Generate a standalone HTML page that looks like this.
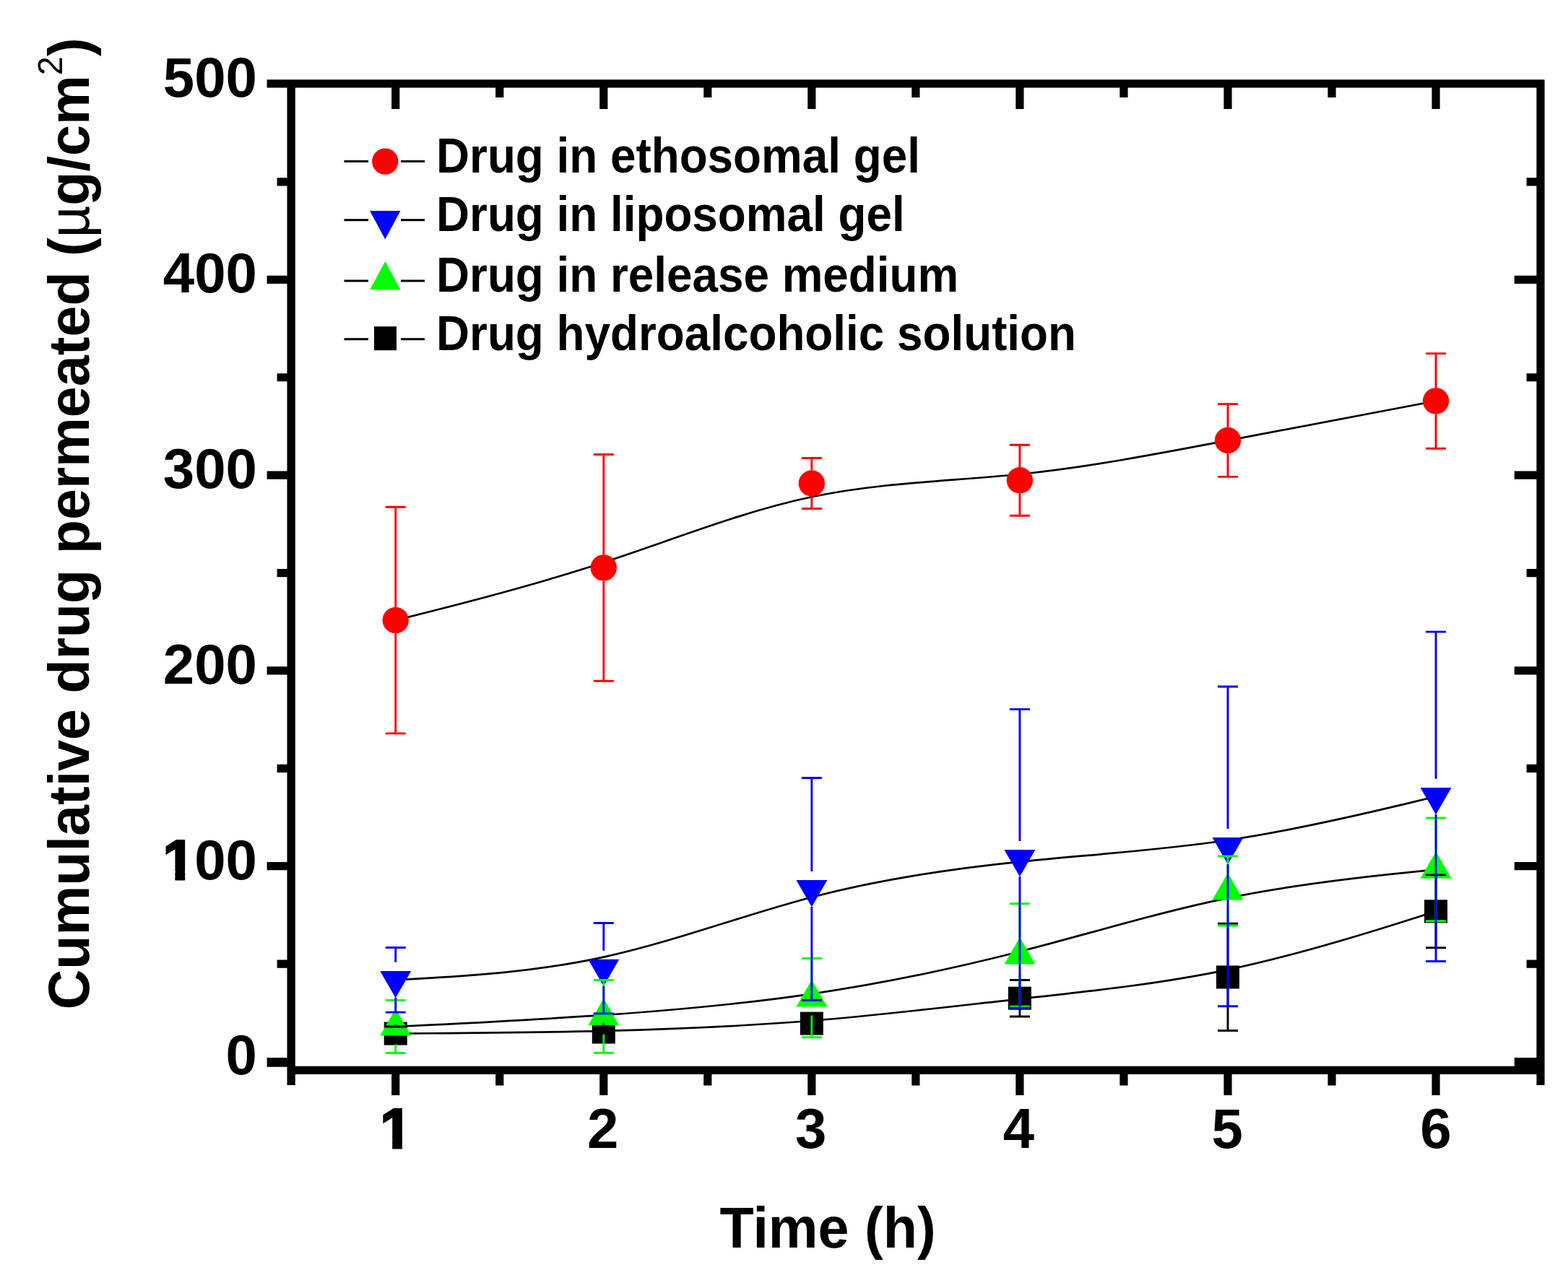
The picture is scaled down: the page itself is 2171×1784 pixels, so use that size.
<!DOCTYPE html>
<html><head><meta charset="utf-8"><title>Cumulative drug permeated</title><style>html,body{margin:0;padding:0;background:#fff;overflow:hidden}svg{display:block}</style></head>
<body>
<svg width="2171" height="1784" viewBox="0 0 2171 1784">
<rect width="2171" height="1784" fill="#fff"/>
<g fill="none" stroke="#000" stroke-width="2.7" stroke-linejoin="round">
<path d="M547.72,1431.6 C547.72,1431.6 547.72,1431.6 595.73,1431.25 C643.74,1430.9 739.77,1430.2 835.79,1427.87 C931.81,1425.53 1027.84,1421.57 1123.86,1413.77 C1219.88,1405.97 1315.91,1394.33 1411.93,1383.63 C1507.95,1372.93 1603.98,1363.17 1700,1343.1 C1796.02,1323.03 1892.05,1292.67 1940.06,1277.48 C1988.07,1262.3 1988.07,1262.3 1988.07,1262.3"/>
<path d="M547.72,1422 C547.72,1422 547.72,1422 595.73,1419.65 C643.74,1417.3 739.77,1412.6 835.79,1405.95 C931.81,1399.3 1027.84,1390.7 1123.86,1376.55 C1219.88,1362.4 1315.91,1342.7 1411.93,1318.02 C1507.95,1293.33 1603.98,1263.67 1700,1243.9 C1796.02,1224.13 1892.05,1214.27 1940.06,1209.33 C1988.07,1204.4 1988.07,1204.4 1988.07,1204.4"/>
<path d="M547.72,1357.3 C547.72,1357.3 547.72,1357.3 595.73,1354.62 C643.74,1351.93 739.77,1346.57 835.79,1325.6 C931.81,1304.63 1027.84,1268.07 1123.86,1242.77 C1219.88,1217.47 1315.91,1203.43 1411.93,1193.58 C1507.95,1183.73 1603.98,1178.07 1700,1163.72 C1796.02,1149.37 1892.05,1126.33 1940.06,1114.82 C1988.07,1103.3 1988.07,1103.3 1988.07,1103.3"/>
<path d="M547.72,859.1 C547.72,859.1 547.72,859.1 595.73,846.98 C643.74,834.87 739.77,810.63 835.79,779.03 C931.81,747.43 1027.84,708.47 1123.86,688.28 C1219.88,668.1 1315.91,666.7 1411.93,656.78 C1507.95,646.87 1603.98,628.43 1700,610.12 C1796.02,591.8 1892.05,573.6 1940.06,564.5 C1988.07,555.4 1988.07,555.4 1988.07,555.4"/>
</g>
<rect x="531.72" y="1415.6" width="32.0" height="32.0" fill="#000000"/>
<rect x="819.79" y="1413.5" width="32.0" height="32.0" fill="#000000"/>
<rect x="1107.86" y="1401.6" width="32.0" height="32.0" fill="#000000"/>
<rect x="1395.93" y="1366.7" width="32.0" height="32.0" fill="#000000"/>
<rect x="1684" y="1337.4" width="32.0" height="32.0" fill="#000000"/>
<rect x="1972.07" y="1246.3" width="32.0" height="32.0" fill="#000000"/>
<polygon points="547.72,1397.17 569.22,1434.41 526.22,1434.41" fill="#00ff00"/>
<polygon points="835.79,1383.07 857.29,1420.31 814.29,1420.31" fill="#00ff00"/>
<polygon points="1123.86,1357.27 1145.36,1394.51 1102.36,1394.51" fill="#00ff00"/>
<polygon points="1411.93,1298.17 1433.43,1335.41 1390.43,1335.41" fill="#00ff00"/>
<polygon points="1700,1209.17 1721.5,1246.41 1678.5,1246.41" fill="#00ff00"/>
<polygon points="1988.07,1179.57 2009.57,1216.81 1966.57,1216.81" fill="#00ff00"/>
<polygon points="547.72,1382.13 569.22,1344.89 526.22,1344.89" fill="#0000ff"/>
<polygon points="835.79,1366.03 857.29,1328.79 814.29,1328.79" fill="#0000ff"/>
<polygon points="1123.86,1256.33 1145.36,1219.09 1102.36,1219.09" fill="#0000ff"/>
<polygon points="1411.93,1214.23 1433.43,1176.99 1390.43,1176.99" fill="#0000ff"/>
<polygon points="1700,1197.23 1721.5,1159.99 1678.5,1159.99" fill="#0000ff"/>
<polygon points="1988.07,1128.13 2009.57,1090.89 1966.57,1090.89" fill="#0000ff"/>
<circle cx="547.72" cy="859.1" r="18.2" fill="#ff0000"/>
<circle cx="835.79" cy="786.4" r="18.2" fill="#ff0000"/>
<circle cx="1123.86" cy="669.5" r="18.2" fill="#ff0000"/>
<circle cx="1411.93" cy="665.3" r="18.2" fill="#ff0000"/>
<circle cx="1700" cy="610" r="18.2" fill="#ff0000"/>
<circle cx="1988.07" cy="555.4" r="18.2" fill="#ff0000"/>
<g stroke="#000000" stroke-width="2.9" fill="none">
<path d="M547.72,1419.6 L547.72,1422 M533.72,1422 L561.72,1422"/>
<path d="M547.72,1443.6 L547.72,1441.2 M533.72,1441.2 L561.72,1441.2"/>
<path d="M835.79,1417.5 L835.79,1421.5 M821.79,1421.5 L849.79,1421.5"/>
<path d="M835.79,1441.5 L835.79,1437.5 M821.79,1437.5 L849.79,1437.5"/>
<path d="M1123.86,1405.6 L1123.86,1409.6 M1109.86,1409.6 L1137.86,1409.6"/>
<path d="M1123.86,1429.6 L1123.86,1425.6 M1109.86,1425.6 L1137.86,1425.6"/>
<path d="M1411.93,1370.7 L1411.93,1357.45 M1397.93,1357.45 L1425.93,1357.45"/>
<path d="M1411.93,1394.7 L1411.93,1407.95 M1397.93,1407.95 L1425.93,1407.95"/>
<path d="M1700,1341.4 L1700,1279.3 M1686,1279.3 L1714,1279.3"/>
<path d="M1700,1365.4 L1700,1427.5 M1686,1427.5 L1714,1427.5"/>
<path d="M1988.07,1250.3 L1988.07,1211.85 M1974.07,1211.85 L2002.07,1211.85"/>
<path d="M1988.07,1274.3 L1988.07,1312.75 M1974.07,1312.75 L2002.07,1312.75"/>
</g>
<g stroke="#00ff00" stroke-width="2.9" fill="none">
<path d="M547.72,1397.5 L547.72,1385.45 M533.72,1385.45 L561.72,1385.45"/>
<path d="M547.72,1446.5 L547.72,1458.55 M533.72,1458.55 L561.72,1458.55"/>
<path d="M835.79,1383.4 L835.79,1357.55 M821.79,1357.55 L849.79,1357.55"/>
<path d="M835.79,1432.4 L835.79,1458.25 M821.79,1458.25 L849.79,1458.25"/>
<path d="M1123.86,1357.6 L1123.86,1327.5 M1109.86,1327.5 L1137.86,1327.5"/>
<path d="M1123.86,1406.6 L1123.86,1436.7 M1109.86,1436.7 L1137.86,1436.7"/>
<path d="M1411.93,1298.5 L1411.93,1251.8 M1397.93,1251.8 L1425.93,1251.8"/>
<path d="M1411.93,1347.5 L1411.93,1394.2 M1397.93,1394.2 L1425.93,1394.2"/>
<path d="M1700,1209.5 L1700,1186 M1686,1186 L1714,1186"/>
<path d="M1700,1258.5 L1700,1282 M1686,1282 L1714,1282"/>
<path d="M1988.07,1179.9 L1988.07,1133 M1974.07,1133 L2002.07,1133"/>
<path d="M1988.07,1228.9 L1988.07,1275.8 M1974.07,1275.8 L2002.07,1275.8"/>
</g>
<g stroke="#0000ff" stroke-width="2.9" fill="none">
<path d="M547.72,1332.8 L547.72,1312.45 M533.72,1312.45 L561.72,1312.45"/>
<path d="M547.72,1381.8 L547.72,1402.15 M533.72,1402.15 L561.72,1402.15"/>
<path d="M835.79,1316.7 L835.79,1278.5 M821.79,1278.5 L849.79,1278.5"/>
<path d="M835.79,1365.7 L835.79,1403.9 M821.79,1403.9 L849.79,1403.9"/>
<path d="M1123.86,1207 L1123.86,1077.5 M1109.86,1077.5 L1137.86,1077.5"/>
<path d="M1123.86,1256 L1123.86,1385.5 M1109.86,1385.5 L1137.86,1385.5"/>
<path d="M1411.93,1164.9 L1411.93,982.4 M1397.93,982.4 L1425.93,982.4"/>
<path d="M1411.93,1213.9 L1411.93,1396.4 M1397.93,1396.4 L1425.93,1396.4"/>
<path d="M1700,1147.9 L1700,951 M1686,951 L1714,951"/>
<path d="M1700,1196.9 L1700,1393.8 M1686,1393.8 L1714,1393.8"/>
<path d="M1988.07,1078.8 L1988.07,875.15 M1974.07,875.15 L2002.07,875.15"/>
<path d="M1988.07,1127.8 L1988.07,1331.45 M1974.07,1331.45 L2002.07,1331.45"/>
</g>
<g stroke="#ff0000" stroke-width="2.9" fill="none">
<path d="M547.72,840.9 L547.72,702.3 M533.72,702.3 L561.72,702.3"/>
<path d="M547.72,877.3 L547.72,1015.9 M533.72,1015.9 L561.72,1015.9"/>
<path d="M835.79,768.2 L835.79,629.5 M821.79,629.5 L849.79,629.5"/>
<path d="M835.79,804.6 L835.79,943.3 M821.79,943.3 L849.79,943.3"/>
<path d="M1123.86,651.3 L1123.86,634.5 M1109.86,634.5 L1137.86,634.5"/>
<path d="M1123.86,687.7 L1123.86,704.5 M1109.86,704.5 L1137.86,704.5"/>
<path d="M1411.93,647.1 L1411.93,616.3 M1397.93,616.3 L1425.93,616.3"/>
<path d="M1411.93,683.5 L1411.93,714.3 M1397.93,714.3 L1425.93,714.3"/>
<path d="M1700,591.8 L1700,559.6 M1686,559.6 L1714,559.6"/>
<path d="M1700,628.2 L1700,660.4 M1686,660.4 L1714,660.4"/>
<path d="M1988.07,537.2 L1988.07,489.6 M1974.07,489.6 L2002.07,489.6"/>
<path d="M1988.07,573.6 L1988.07,621.2 M1974.07,621.2 L2002.07,621.2"/>
</g>
<path fill="#000" d="M369.6,110.2H2138.6V121.4H369.6ZM397.5,110.2H408.8V1503H397.5ZM397.5,1476.7H2138.6V1487.9H397.5ZM2127.4,110.2H2138.6V1503H2127.4ZM542.12,1486.9H553.32V1517H542.12ZM542.12,120.4H553.32V151H542.12ZM830.19,1486.9H841.39V1517H830.19ZM830.19,120.4H841.39V151H830.19ZM1118.26,1486.9H1129.46V1517H1118.26ZM1118.26,120.4H1129.46V151H1118.26ZM1406.33,1486.9H1417.53V1517H1406.33ZM1406.33,120.4H1417.53V151H1406.33ZM1694.4,1486.9H1705.6V1517H1694.4ZM1694.4,120.4H1705.6V151H1694.4ZM1982.47,1486.9H1993.67V1517H1982.47ZM1982.47,120.4H1993.67V151H1982.47ZM686.15,1486.9H697.36V1503.5H686.15ZM686.15,120.4H697.36V135H686.15ZM974.22,1486.9H985.42V1503.5H974.22ZM974.22,120.4H985.42V135H974.22ZM1262.3,1486.9H1273.49V1503.5H1262.3ZM1262.3,120.4H1273.49V135H1262.3ZM1550.37,1486.9H1561.57V1503.5H1550.37ZM1550.37,120.4H1561.57V135H1550.37ZM1838.43,1486.9H1849.63V1503.5H1838.43ZM1838.43,120.4H1849.63V135H1838.43ZM369.6,1464.88H398.5V1477.7H369.6ZM2096.8,1464.88H2128.4V1477.7H2096.8ZM383.6,1329.49H398.5V1340.69H383.6ZM2113.6,1329.49H2128.4V1340.69H2113.6ZM369.6,1194.1H398.5V1205.3H369.6ZM2096.8,1194.1H2128.4V1205.3H2096.8ZM383.6,1058.71H398.5V1069.91H383.6ZM2113.6,1058.71H2128.4V1069.91H2113.6ZM369.6,923.32H398.5V934.52H369.6ZM2096.8,923.32H2128.4V934.52H2096.8ZM383.6,787.93H398.5V799.13H383.6ZM2113.6,787.93H2128.4V799.13H2113.6ZM369.6,652.54H398.5V663.74H369.6ZM2096.8,652.54H2128.4V663.74H2096.8ZM383.6,517.15H398.5V528.35H383.6ZM2113.6,517.15H2128.4V528.35H2113.6ZM369.6,381.76H398.5V392.96H369.6ZM2096.8,381.76H2128.4V392.96H2096.8ZM383.6,246.37H398.5V257.57H383.6ZM2113.6,246.37H2128.4V257.57H2113.6ZM369.6,110.2H398.5V121.4H369.6ZM2096.8,110.2H2128.4V121.4H2096.8Z"/>
<g style="font-family:'Liberation Sans',Arial,sans-serif;font-weight:bold;font-size:78px" fill="#000">
<text x="355.9" y="1488.28" text-anchor="end">0</text>
<text x="355.9" y="1217.5" text-anchor="end" clip-path="url(#c1y100)"><tspan stroke="#000" stroke-width="3.0">1</tspan>00</text>
<text x="355.9" y="946.72" text-anchor="end">200</text>
<text x="355.9" y="675.94" text-anchor="end">300</text>
<text x="355.9" y="405.16" text-anchor="end">400</text>
<text x="355.9" y="134.38" text-anchor="end">500</text>
<text x="548.22" y="1590.3" text-anchor="middle" clip-path="url(#c1x)" stroke="#000" stroke-width="3.0">1</text>
<text x="834.59" y="1590.3" text-anchor="middle">2</text>
<text x="1122.76" y="1590.3" text-anchor="middle">3</text>
<text x="1410.43" y="1590.3" text-anchor="middle">4</text>
<text x="1699.3" y="1590.3" text-anchor="middle">5</text>
<text x="1987.87" y="1590.3" text-anchor="middle">6</text>
</g>
<text style="font-family:'Liberation Sans',Arial,sans-serif;font-weight:bold;font-size:77.3px" transform="translate(1146.15,1728.2) scale(1,1.03)" text-anchor="middle">Time (h)</text>
<text style="font-family:'Liberation Sans',Arial,sans-serif;font-weight:bold;font-size:77.3px" transform="translate(122.9,1398.5) rotate(-90) scale(1,1.03)">Cumulative drug permeated (<tspan style="font-weight:normal">µ</tspan>g/cm<tspan style="font-weight:normal;font-size:47px" dy="-36">2</tspan><tspan dy="36">)</tspan></text>
<g style="font-family:'Liberation Sans',Arial,sans-serif;font-weight:bold;font-size:63.8px" fill="#000">
<text transform="translate(604,238.7) scale(1,1.06)">Drug in ethosomal gel</text>
<text transform="translate(604,320.0) scale(1,1.06)">Drug in liposomal gel</text>
<text transform="translate(604,404.1) scale(1,1.06)">Drug in release medium</text>
<text transform="translate(604,485.4) scale(1,1.06)">Drug hydroalcoholic solution</text>
</g>
<g stroke="#000" stroke-width="3">
<path d="M476.5,223.5 L510,223.5 M555,223.5 L588,223.5"/>
<path d="M476.5,304.7 L510,304.7 M555,304.7 L588,304.7"/>
<path d="M476.5,388.9 L510,388.9 M555,388.9 L588,388.9"/>
<path d="M476.5,469.7 L510,469.7 M555,469.7 L588,469.7"/>
</g>
<circle cx="533.25" cy="223.6" r="18.2" fill="#ff0000"/>
<polygon points="512.1,292.1 554.4,292.1 533.25,331.6" fill="#0000ff"/>
<polygon points="533.25,362 554.4,401.3 512.1,401.3" fill="#00ff00"/>
<rect x="518" y="452.2" width="31" height="33" fill="#000000"/>
<defs><clipPath id="c1y100"><rect x="0" y="0" width="2171" height="1206.04"/><rect x="242.47" y="0" width="13.7" height="1784"/><rect x="269.14" y="0" width="2171" height="1784"/></clipPath><clipPath id="c1x"><rect x="0" y="0" width="2171" height="1578.84"/><rect x="543.24" y="0" width="13.7" height="1784"/></clipPath></defs>
</svg>
</body></html>
